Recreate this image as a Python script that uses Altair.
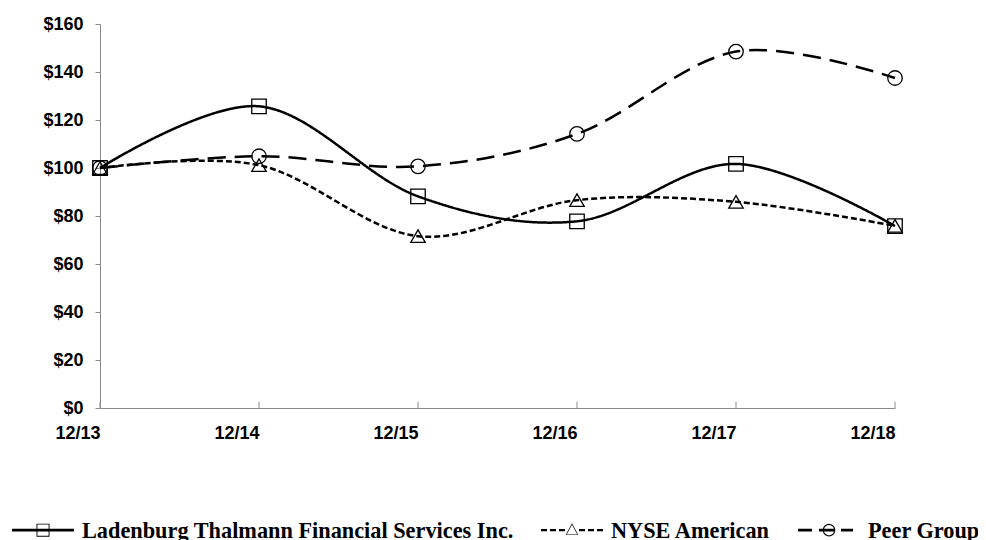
import math
import altair as alt
import pandas as pd

# ---------------- data ----------------
dates = ["12/13", "12/14", "12/15", "12/16", "12/17", "12/18"]
series_names = ["Ladenburg Thalmann Financial Services Inc.", "NYSE American", "Peer Group"]
ladenburg = [100.0, 125.7, 88.2, 77.8, 101.7, 75.8]
nyse = [100.0, 101.2, 71.6, 86.6, 85.9, 75.9]
peer = [100.0, 104.9, 100.7, 114.2, 148.5, 137.5]
y_ticks = [0, 20, 40, 60, 80, 100, 120, 140, 160]

rows = []
for name, vals in zip(series_names, [ladenburg, nyse, peer]):
    for d, v in zip(dates, vals):
        rows.append({"date": d, "series": name, "value": v})
df = pd.DataFrame(rows)
df_dates = pd.DataFrame({"date": dates})

# ---------------- styles ----------------
dashes = [[1, 0], [6, 3], [18, 9]]
shapes = ["square", "triangle-up", "circle"]

# legend symbols: custom paths (line segments + hollow marker), unit = half width
R = 31.0


def P(pts):
    return "M" + "L".join(f"{x / R:.4f},{y / R:.4f}" for x, y in pts) + "Z"


def bar(x0, x1, w=2.6, dy=0.0):
    return P([(x0, dy - w / 2), (x1, dy - w / 2), (x1, dy + w / 2), (x0, dy + w / 2)])


def ring(outer, cx, cy, t):
    # inner contour scaled toward centre, reversed winding -> hollow outline
    inr = min(math.hypot(x - cx, y - cy) for x, y in outer)
    f = (inr - t) / inr
    inner = [(cx + (x - cx) * f, cy + (y - cy) * f) for x, y in outer][::-1]
    return P(outer) + P(inner)


DY = -1.2
sq = [(-6.5, -6.5 + DY), (6.5, -6.5 + DY), (6.5, 6.5 + DY), (-6.5, 6.5 + DY)]
tri = [(0, -6.8 + DY), (6.2, 4.6 + DY), (-6.2, 4.6 + DY)]
circ = [(6.3 * math.cos(2 * math.pi * k / 36), DY + 6.3 * math.sin(2 * math.pi * k / 36)) for k in range(36)]

sym_lad = bar(-31, 31, dy=DY) + ring(sq, 0, DY, 1.3)
sym_nyse = "".join(bar(a, b, w=2.2, dy=DY) for a, b in [(-31, -25), (-22, -16), (-13, -7), (7, 13), (16, 22), (25, 31)]) \
    + ring(tri, 0, DY + 1.0, 1.2)
sym_peer = "".join(bar(a, b, w=2.6, dy=DY) for a, b in [(-31, -17), (-10, 6), (12, 24)]) + ring(circ, 0, DY, 1.2)
legend_paths = [sym_lad, sym_nyse, sym_peer]

axis_font = "Liberation Sans"
gray = "#898989"

x_enc = alt.X(
    "date:O",
    sort=dates,
    scale=alt.Scale(type="point", padding=0),
    axis=alt.Axis(
        title=None, labelAngle=0, ticks=False, domainColor=gray, domainWidth=1,
        labelFont=axis_font, labelFontWeight="bold", labelFontSize=18, labelColor="black",
        labelPadding=25, labelFlush=False, grid=False,
    ),
)
y_enc = alt.Y(
    "value:Q",
    scale=alt.Scale(domain=[0, 160], nice=False),
    axis=alt.Axis(
        title=None, values=y_ticks, format="$.0f", tickSize=5, tickColor=gray, domainColor=gray,
        labelFont=axis_font, labelFontWeight="bold", labelFontSize=18, labelColor="black",
        labelPadding=12, grid=False,
    ),
)

ticks = alt.Chart(df_dates).mark_rule(color=gray, strokeWidth=1).encode(
    x=alt.X("date:O", sort=dates), y=alt.datum(0), y2=alt.datum(2.6)
)

lines = alt.Chart(df).mark_line(interpolate="cardinal", color="black", strokeWidth=2.5).encode(
    x=x_enc,
    y=y_enc,
    strokeDash=alt.StrokeDash("series:N", scale=alt.Scale(domain=series_names, range=dashes), legend=None),
    detail="series:N",
)

points = alt.Chart(df).mark_point(filled=False, color="black", strokeWidth=1.3, size=210, opacity=1).encode(
    x=alt.X("date:O", sort=dates),
    y="value:Q",
    shape=alt.Shape("series:N", scale=alt.Scale(domain=series_names, range=shapes), legend=None),
)

legend_layer = alt.Chart(df).transform_filter("false").mark_point(
    filled=True, color="black", opacity=1
).encode(
    x=alt.X("date:O", sort=dates),
    y="value:Q",
    shape=alt.Shape(
        "series:N",
        scale=alt.Scale(domain=series_names, range=legend_paths),
        legend=alt.Legend(
            orient="none", legendX=-88, legendY=476, direction="horizontal", columns=3,
            title=None, labelFont="Liberation Serif", labelFontWeight="bold", labelFontSize=22.3,
            labelColor="black", labelLimit=600, labelOffset=8, columnPadding=27,
            symbolSize=3844, symbolFillColor="black", symbolStrokeColor="transparent",
            symbolStrokeWidth=0, symbolOpacity=1, padding=0,
        ),
    ),
)

chart = (
    alt.layer(ticks, lines, points, legend_layer)
    .resolve_scale(shape="independent")
    .properties(
        width=795,
        height=384,
        autosize=alt.AutoSizeParams(type="none"),
        padding={"left": 92, "top": 16, "right": 83, "bottom": 132},
        background="white",
    )
    .configure_view(strokeWidth=0)
)

chart.save("out.html", embed_options={"renderer": "svg", "actions": False})
